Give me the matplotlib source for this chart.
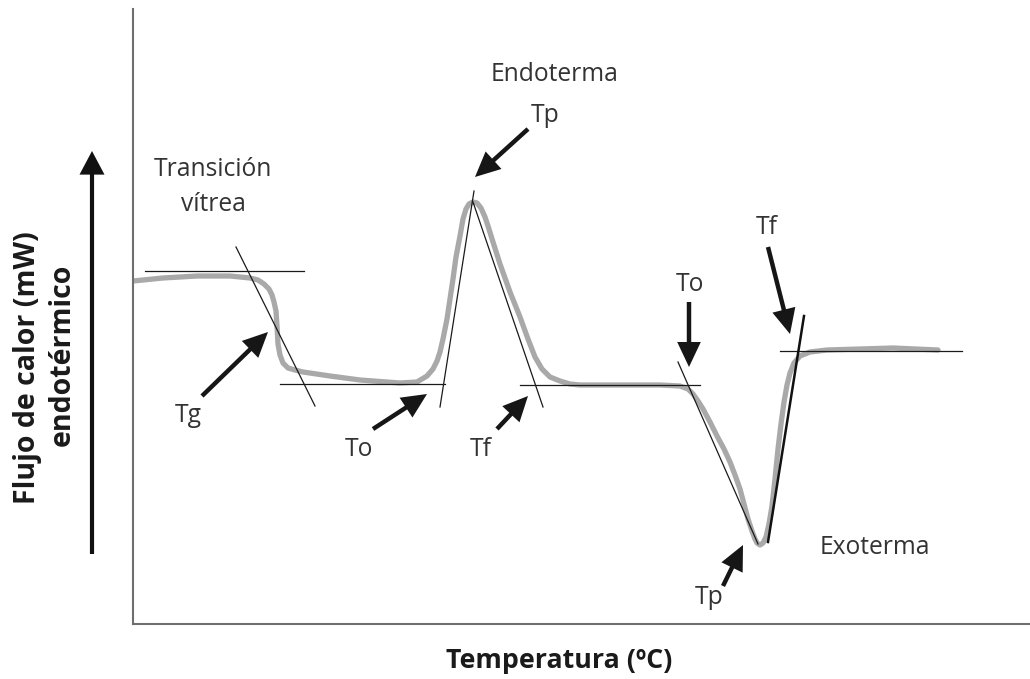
import matplotlib
matplotlib.use("Agg")
import matplotlib.pyplot as plt
from matplotlib.patches import FancyArrowPatch

plt.rcParams["font.family"] = ["Open Sans", "DejaVu Sans"]

# DSC thermogram (schematic): temperature vs. endothermic heat flow
temperatura = [0, 30, 64, 97, 117, 125, 131, 136, 139, 141, 143, 144, 145, 147, 150,
               155, 162, 170, 197, 227, 267, 284, 294,
               300, 304, 307, 310, 314, 317, 320, 323, 327, 330, 333, 336, 340, 344,
               348, 352, 355, 360, 367, 377, 387, 395, 402, 409, 417, 427, 437, 447,
               487, 527, 547, 555, 560, 565, 570, 577, 584, 591, 597, 602, 607, 611,
               615, 619, 622, 624, 627, 630, 633, 636, 639, 642, 645, 648, 651, 654,
               657, 661, 667, 677, 694, 727, 760, 805]
flujo = [343, 346, 348, 348, 346, 344, 340, 335, 329, 322, 313, 298, 280, 269, 261,
         256, 254, 252, 248, 244, 241, 242, 248,
         255, 263, 272, 285, 305, 325, 345, 367, 388, 405, 415, 420, 422, 421,
         416, 407, 398, 382, 360, 332, 307, 285, 267, 255, 247, 243, 240, 239,
         239, 239, 238, 235, 230, 223, 215, 202, 188, 175, 162, 149, 135, 120,
         105, 93, 85, 81, 79, 81, 87, 100, 118, 145, 175, 200, 222, 239,
         251, 261, 268, 272, 274, 275, 276, 274]

# construction lines: baselines and inflection tangents ((T0, T1), (Q0, Q1))
tangentes_finas = [
    ((12, 171), (353, 353)),     # baseline before the glass transition
    ((103, 182), (377, 218)),    # glass transition tangent
    ((147, 312), (240, 240)),    # baseline after Tg
    ((341, 307), (433, 217)),    # endotherm onset tangent
    ((340, 410), (422, 217)),    # endotherm end tangent
    ((387, 567), (239, 239)),    # baseline between peaks
    ((545, 625), (262, 80)),     # exotherm onset tangent
    ((647, 829), (273, 273)),    # final baseline
]
tangente_gruesa = ((671, 635), (308, 82))  # exotherm end tangent

# annotation arrows: (tail, tip)
flechas = [
    ((69, 228), (135, 292)),     # Tg
    ((240, 195), (294, 230)),    # To endotherm
    ((395, 495), (342, 447)),    # Tp endotherm
    ((364, 195), (395, 228)),    # Tf endotherm
    ((556, 322), (556, 257)),    # To exotherm
    ((635, 377), (657, 290)),    # Tf exotherm
    ((590, 38), (610, 79)),      # Tp exotherm
]

# labels: (text, T, Q baseline)
etiquetas = [
    ("Transición", 80, 448),
    ("vítrea", 80, 413),
    ("Endoterma", 422, 543),
    ("Tp", 412, 502),
    ("Tg", 55, 202),
    ("To", 226, 168),
    ("Tf", 348, 168),
    ("To", 557, 333),
    ("Tf", 634, 390),
    ("Exoterma", 742, 70),
    ("Tp", 576, 20),
]

W, H = 1030, 679
fig = plt.figure(figsize=(W / 100, H / 100), dpi=100)
ax = fig.add_axes([133 / W, 55 / H, (W - 133) / W, 615 / H])
ax.set_xlim(0, 897)
ax.set_ylim(0, 615)

for s in ("top", "right"):
    ax.spines[s].set_visible(False)
for s in ("left", "bottom"):
    ax.spines[s].set_color("#6e6e6e")
    ax.spines[s].set_linewidth(1.5)
ax.set_xticks([])
ax.set_yticks([])

ax.plot(temperatura, flujo, color="#a9a9a9", lw=3.8, solid_capstyle="round",
        solid_joinstyle="round", zorder=2)

for xs, ys in tangentes_finas:
    ax.plot(xs, ys, color="#1a1a1a", lw=0.9, zorder=3)
ax.plot(*tangente_gruesa, color="#111111", lw=1.8, zorder=3)

estilo = "simple,head_length=1.8,head_width=1.7,tail_width=0.32"
for tail, tip in flechas:
    ax.add_patch(FancyArrowPatch(tail, tip, arrowstyle=estilo, mutation_scale=10,
                                 color="#161616", lw=0, shrinkA=0, shrinkB=0,
                                 zorder=4))

# vertical "endothermic" direction arrow beside the y axis
eje = FancyArrowPatch((-41, 70), (-41, 473),
                      arrowstyle="simple,head_length=1.7,head_width=1.8,tail_width=0.3",
                      mutation_scale=10, color="#111111", lw=0, shrinkA=0, shrinkB=0)
eje.set_clip_on(False)
ax.add_patch(eje)

for txt, x, y in etiquetas:
    ax.text(x, y, txt, ha="center", va="baseline", fontsize=17.7, color="#333333")

fig.text(559 / W, 1 - 668 / H, "Temperatura (ºC)", ha="center", va="baseline",
         fontsize=19.3, fontweight="bold", color="#1a1a1a")
fig.text(28 / W, 1 - 368 / H, "Flujo de calor (mW)", ha="center", va="center",
         rotation=90, fontsize=20.5, fontweight="bold", color="#1a1a1a")
fig.text(62 / W, 1 - 355 / H, "endotérmico", ha="center", va="center",
         rotation=90, fontsize=20.5, fontweight="bold", color="#1a1a1a")

fig.savefig("out.png", dpi=100)
